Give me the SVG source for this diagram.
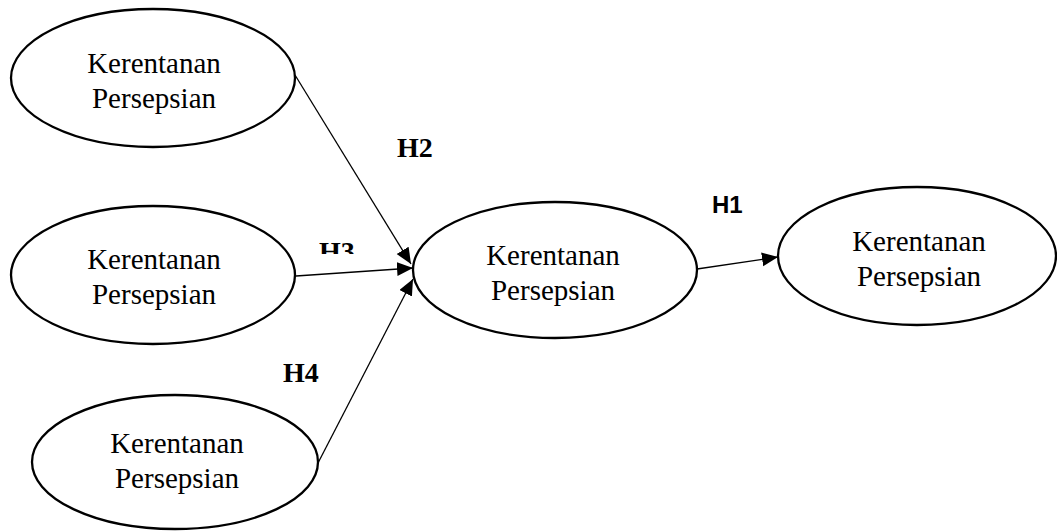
<svg xmlns="http://www.w3.org/2000/svg" width="1057" height="531" viewBox="0 0 1057 531">
<style>
.node ellipse{fill:#fff;stroke:#000;stroke-width:2.3}
.node text{font-family:"Liberation Serif","Times New Roman",serif;font-size:29px;fill:#000;text-anchor:middle}
.edge{stroke:#000;stroke-width:1.3;fill:none;marker-end:url(#arr)}
.lbl{font-family:"Liberation Serif","Times New Roman",serif;font-weight:bold;font-size:28px;fill:#000}
.lbl2{font-family:"Liberation Sans",Arial,sans-serif;font-weight:bold;font-size:24px;fill:#000}
</style>
<defs>
<marker id="arr" markerUnits="userSpaceOnUse" markerWidth="18" markerHeight="16" refX="16" refY="7" orient="auto">
<path d="M0,0 L16,7 L0,14 Z" fill="#000"/>
</marker>
<clipPath id="h3clip"><rect x="300" y="230" width="80" height="24"/></clipPath>
</defs>
<rect width="1057" height="531" fill="#fff"/>
<g id="connectors">
<line class="edge" x1="295" y1="75" x2="411" y2="264"/>
<line class="edge" x1="296" y1="276" x2="413" y2="268"/>
<line class="edge" x1="318" y1="463" x2="413" y2="279"/>
<line class="edge" x1="697" y1="269" x2="778" y2="257"/>
</g>
<g id="node1" class="node">
<ellipse cx="153" cy="78" rx="142" ry="69"/>
<text x="154" y="73">Kerentanan</text>
<text x="154" y="108">Persepsian</text>
</g>
<g id="node2" class="node">
<ellipse cx="153" cy="275" rx="142" ry="69"/>
<text x="154" y="269">Kerentanan</text>
<text x="154" y="304">Persepsian</text>
</g>
<g id="node3" class="node">
<ellipse cx="175" cy="462" rx="143" ry="67"/>
<text x="177" y="453">Kerentanan</text>
<text x="177" y="488">Persepsian</text>
</g>
<g id="node4" class="node">
<ellipse cx="555" cy="270" rx="142" ry="68"/>
<text x="553" y="265">Kerentanan</text>
<text x="553" y="300">Persepsian</text>
</g>
<g id="node5" class="node">
<ellipse cx="917" cy="256" rx="139" ry="69"/>
<text x="919" y="251">Kerentanan</text>
<text x="919" y="286">Persepsian</text>
</g>
<g id="labels">
<text class="lbl" x="397" y="157">H2</text>
<text class="lbl" x="319" y="261" clip-path="url(#h3clip)">H3</text>
<text class="lbl" x="283" y="382">H4</text>
<text class="lbl2" x="712" y="213">H1</text>
</g>
</svg>
